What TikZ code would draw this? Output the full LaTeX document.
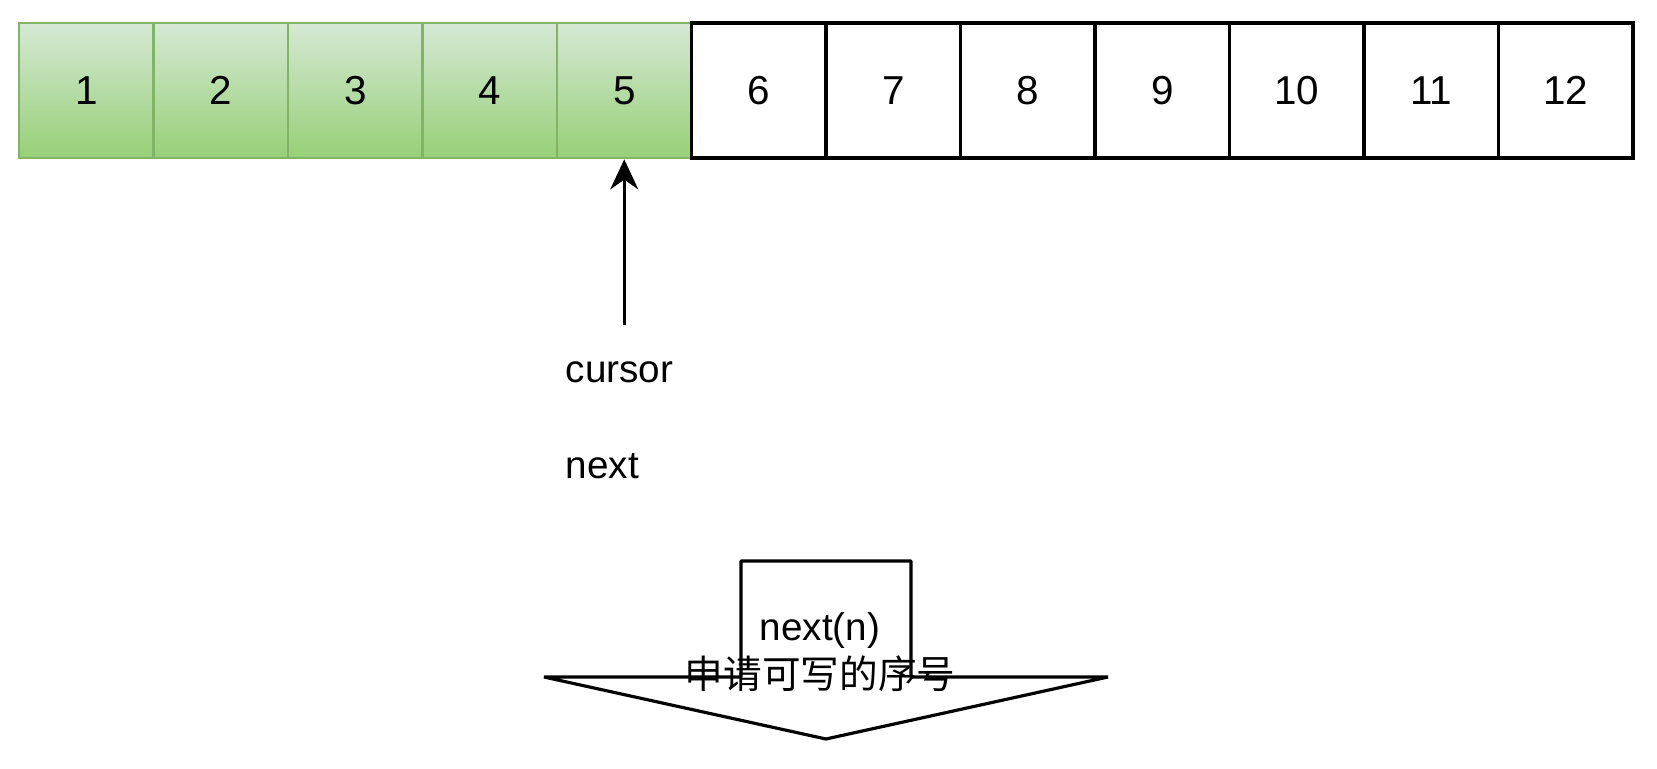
\documentclass[tikz,border=0pt]{standalone}
\usepackage{fontspec}
\setmainfont{Liberation Sans}
\newfontfamily\cjk{Noto Sans CJK SC}
\usepackage{tikz}
\usetikzlibrary{arrows.meta,positioning,calc}
\definecolor{DoneEdge}{HTML}{82B366}
\definecolor{DoneTop}{HTML}{D5E8D4}
\definecolor{DoneBot}{HTML}{97D077}

\tikzset{
  slot/.style={rectangle, minimum width=1.345cm, minimum height=1.35cm,
               inner sep=0pt, font=\fontsize{11.5}{13.8}\selectfont},
  donecell/.style={slot, draw=DoneEdge, line width=0.8pt,
                   top color=DoneTop, bottom color=DoneBot},
  freecell/.style={slot, draw=black, line width=0.9pt, fill=white},
  ptrarrow/.style={-{Stealth[length=3mm,width=2.8mm]}, line width=0.8pt},
  txtlbl/.style={font=\fontsize{11}{13}\selectfont, inner sep=0pt},
  bigarrow/.style={draw=black, line width=0.9pt, line join=bevel, fill=white}
}

\begin{document}
\begin{tikzpicture}
  \useasboundingbox (0,0) rectangle (16.57,-7.69);
  % ring buffer slots
  \foreach \i in {1,...,5}
    \node[donecell] (c\i) at ({0.19+(\i-0.5)*1.345},-0.905) {\i};
  \foreach \i in {6,...,12}
    \node[freecell] (c\i) at ({0.19+(\i-0.5)*1.345},-0.905) {\i};

  % cursor pointer
  \coordinate (ptr) at ($(c5.south)+(0,-1.66)$);
  \draw[ptrarrow] (ptr) -- (c5.south);
  \node[txtlbl, anchor=base west] (cursor) at (5.65,-3.83) {cursor};
  \node[txtlbl, anchor=base west] (nextlbl) at (5.65,-4.79) {next};

  % request arrow
  \draw[bigarrow] (7.41,-5.61) -- (9.11,-5.61) -- (9.11,-6.77) -- (11.08,-6.77)
    -- (8.26,-7.39) -- (5.44,-6.77) -- (7.41,-6.77) -- cycle;
  \node[txtlbl, align=center, font=\fontsize{11}{13.6}\selectfont] (req) at (8.20,-6.52)
    {next(n)\\{\cjk 申请可写的序号}};
\end{tikzpicture}
\end{document}
